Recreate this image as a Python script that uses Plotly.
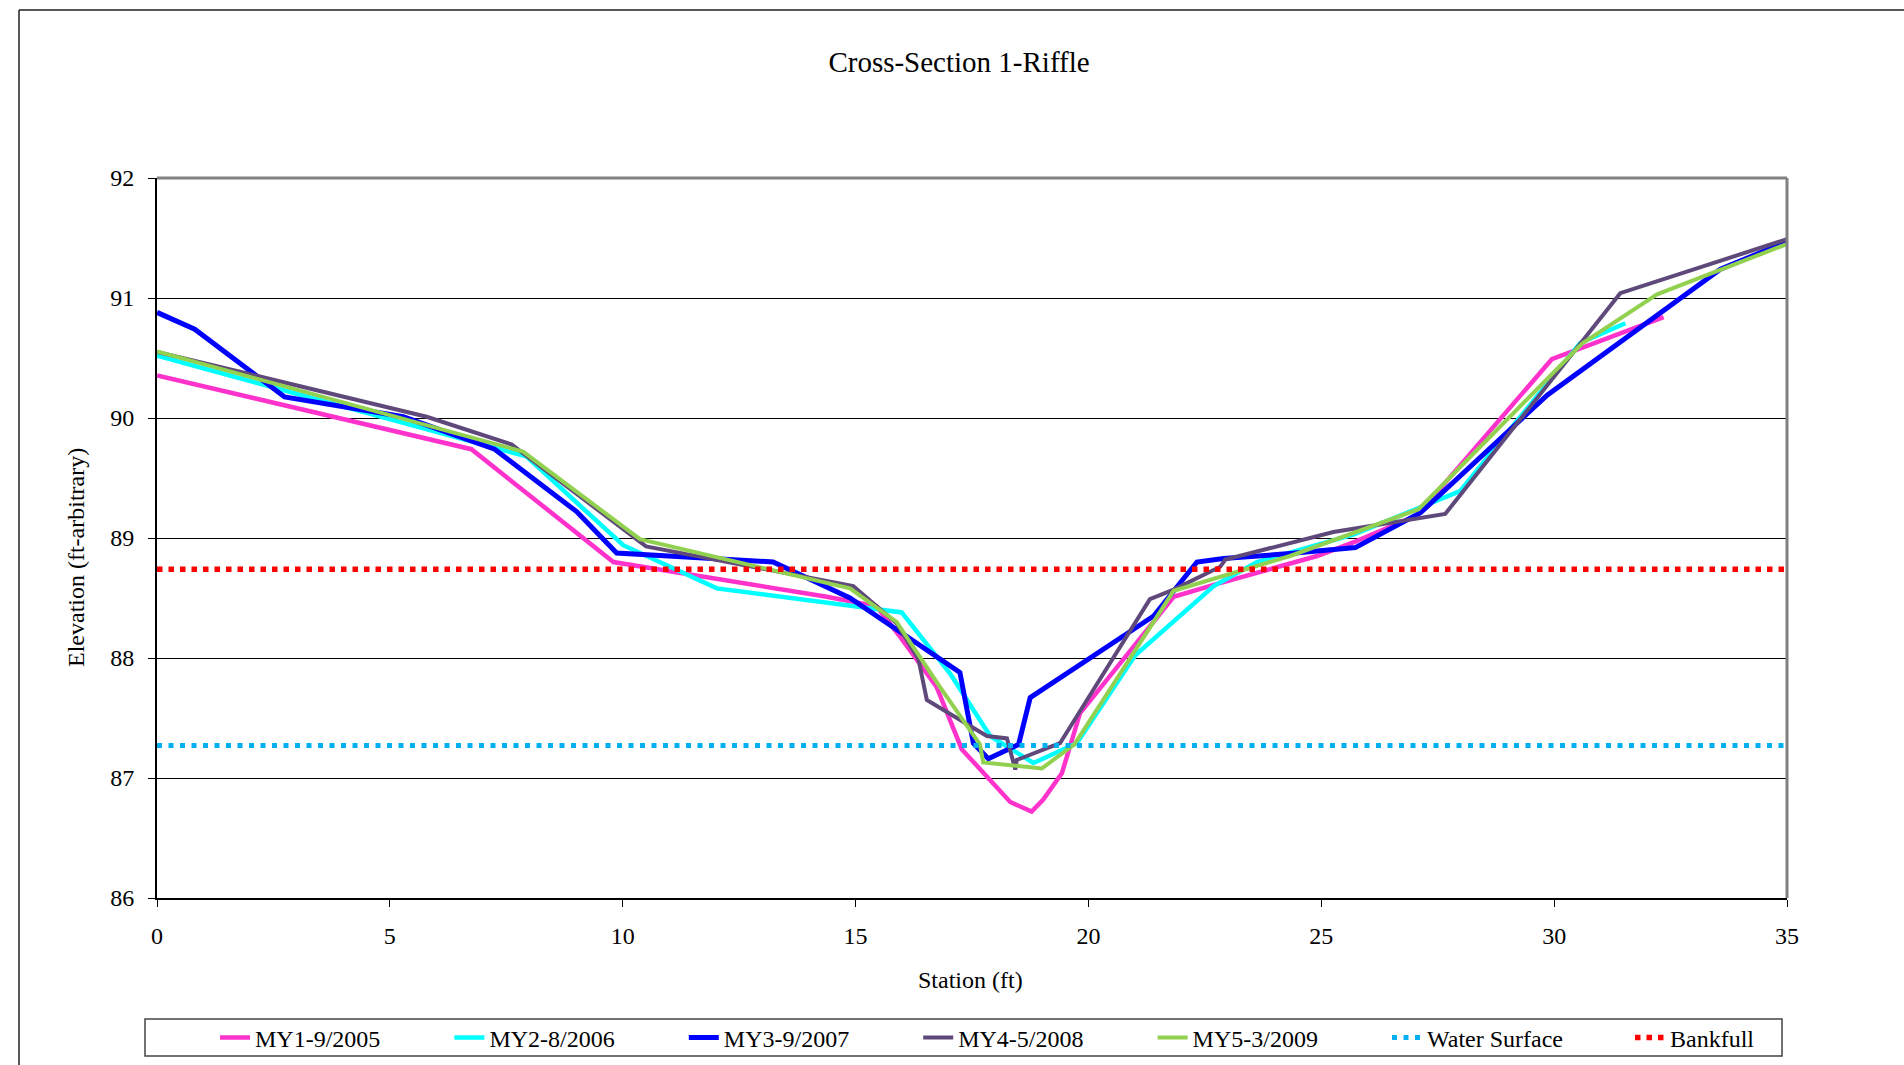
import plotly.graph_objects as go

# Station (ft) and elevation (ft) for each monitoring-year survey
my1_station = [0, 6.75, 9.8, 11.66, 14.38, 15.45, 15.95, 16.74, 17.28, 18.32, 18.78, 19.03,
               19.43, 19.82, 21.83, 22.69, 24.91, 25.73, 27.06, 29.95, 32.35]
my1_elev = [90.355, 89.74, 88.80, 88.68, 88.51, 88.43, 88.18, 87.76, 87.24, 86.80, 86.72, 86.82,
            87.04, 87.54, 88.51, 88.61, 88.85, 88.97, 89.19, 90.49, 90.84]

my2_station = [0, 2.8, 7.93, 10.01, 12.02, 15.02, 15.99, 17.03, 17.89, 18.82, 19.75, 21.0,
               22.69, 23.62, 25.7, 27.98, 30.56, 31.53]
my2_elev = [90.52, 90.22, 89.68, 88.94, 88.58, 88.43, 88.38, 87.87, 87.35, 87.125, 87.29, 88.02,
            88.60, 88.80, 89.03, 89.39, 90.625, 90.79]

my3_station = [0, 0.81, 2.74, 5.29, 7.25, 9.01, 9.87, 13.23, 14.88, 17.24, 17.53, 17.85, 18.50,
               18.75, 21.40, 22.33, 22.9, 24.33, 25.73, 27.13, 29.85, 33.57, 35]
my3_elev = [90.88, 90.74, 90.175, 90.01, 89.74, 89.22, 88.875, 88.80, 88.50, 87.88, 87.29, 87.16,
            87.28, 87.67, 88.35, 88.80, 88.83, 88.87, 88.92, 89.21, 90.19, 91.24, 91.47]

my4_station = [0, 0.77, 5.79, 7.61, 10.5, 14.95, 15.88, 16.35, 16.53, 17.82, 18.25, 18.43, 18.46,
               19.39, 21.32, 21.83, 22.83, 22.94, 25.26, 27.66, 31.42, 35]
my4_elev = [90.55, 90.48, 90.01, 89.78, 88.93, 88.60, 88.29, 87.99, 87.65, 87.35, 87.33, 87.07, 87.15,
            87.29, 88.49, 88.57, 88.76, 88.82, 89.05, 89.20, 91.04, 91.49]

my5_station = [0, 7.86, 10.37, 13.80, 14.88, 15.88, 16.81, 17.67, 17.74, 19.0, 19.7, 21.83,
               24.33, 27.09, 30.6, 32.21, 35]
my5_elev = [90.555, 89.72, 88.99, 88.68, 88.58, 88.30, 87.76, 87.28, 87.13, 87.08, 87.28, 88.56,
            88.85, 89.24, 90.62, 91.03, 91.45]

# Reference elevations spanning the section
level_station = [0, 35]
water_surface_elev = [87.27, 87.27]
bankfull_elev = [88.74, 88.74]

series_names = ["MY1-9/2005", "MY2-8/2006", "MY3-9/2007", "MY4-5/2008", "MY5-3/2009"]
x_ticks = [0, 5, 10, 15, 20, 25, 30, 35]
y_ticks = [86, 87, 88, 89, 90, 91, 92]

SERIF = "Liberation Serif, Times New Roman, serif"

surveys = [
    (my1_station, my1_elev, "#FF33CC", 4.5),
    (my2_station, my2_elev, "#00FFFF", 4.5),
    (my3_station, my3_elev, "#0000FF", 5),
    (my4_station, my4_elev, "#5F497A", 4),
    (my5_station, my5_elev, "#92D050", 4),
]

fig = go.Figure()
for name, (xs, ys, color, w) in zip(series_names, surveys):
    fig.add_trace(go.Scatter(x=xs, y=ys, mode="lines", name=name,
                             line=dict(color=color, width=w)))

fig.add_trace(go.Scatter(x=level_station, y=water_surface_elev, mode="lines", name="Water Surface",
                         line=dict(color="#00B0F0", width=5, dash="5px,6.5px")))
fig.add_trace(go.Scatter(x=level_station, y=bankfull_elev, mode="lines", name="Bankfull",
                         legend="legend2",
                         line=dict(color="#FF0000", width=5.5, dash="5.5px,6px")))

W, H = 1904, 1065
L, R, T, B = 157, 117, 178, 167
pw, ph = W - L - R, H - T - B


def px_x(p):
    return (p - L) / pw


def px_y(p):
    return (H - B - p) / ph


shapes = [
    # grey plot-area frame on top and right
    dict(type="line", xref="paper", yref="paper", x0=0, x1=1, y0=1, y1=1,
         line=dict(color="#808080", width=3)),
    dict(type="line", xref="paper", yref="paper", x0=1, x1=1, y0=0, y1=1,
         line=dict(color="#808080", width=3)),
    # chart-area border
    dict(type="line", xref="paper", yref="paper", x0=px_x(19), x1=px_x(1910),
         y0=px_y(10), y1=px_y(10), line=dict(color="#222222", width=1.5)),
    dict(type="line", xref="paper", yref="paper", x0=px_x(19), x1=px_x(19),
         y0=px_y(10), y1=px_y(1070), line=dict(color="#222222", width=1.5)),
    # legend box
    dict(type="rect", xref="paper", yref="paper", x0=px_x(145), x1=px_x(1782),
         y0=px_y(1056), y1=px_y(1019), line=dict(color="#444444", width=1.5)),
]

annotations = [
    dict(text="Station (ft)", xref="paper", yref="paper", x=px_x(970), y=px_y(980),
         showarrow=False, font=dict(family=SERIF, size=24, color="black"),
         xanchor="center", yanchor="middle"),
    dict(text="Elevation (ft-arbitrary)", xref="paper", yref="paper", x=px_x(76), y=px_y(558),
         showarrow=False, textangle=-90, font=dict(family=SERIF, size=24, color="black"),
         xanchor="center", yanchor="middle"),
]

legend_common = dict(orientation="h", xanchor="left", yref="container", y=1 - 1038 / H,
                     yanchor="middle", bgcolor="rgba(0,0,0,0)", borderwidth=0,
                     entrywidth=189.4, entrywidthmode="pixels",
                     font=dict(family=SERIF, size=24, color="black"))

fig.update_layout(
    width=W, height=H,
    margin=dict(l=L, r=R, t=T, b=B, autoexpand=False),
    paper_bgcolor="white", plot_bgcolor="white",
    title=dict(text="Cross-Section 1-Riffle", x=959 / W, xanchor="center",
               y=1 - 62 / H, yanchor="middle", yref="container",
               font=dict(family=SERIF, size=29, color="black")),
    font=dict(family=SERIF, size=24, color="black"),
    xaxis=dict(range=[0, 35], tickvals=x_ticks, ticks="outside", ticklen=7, tickwidth=1,
               tickcolor="black", showline=True, linecolor="black", linewidth=2,
               showgrid=False, zeroline=False, ticklabelstandoff=8,
               tickfont=dict(family=SERIF, size=24, color="black")),
    yaxis=dict(range=[86, 92], tickvals=y_ticks, ticks="outside", ticklen=7, tickwidth=1,
               tickcolor="black", showline=True, linecolor="black", linewidth=2,
               showgrid=True, gridcolor="black", gridwidth=1, zeroline=False,
               ticklabelstandoff=9,
               tickfont=dict(family=SERIF, size=24, color="black")),
    legend=dict(x=px_x(215), **legend_common),
    legend2=dict(x=px_x(1630), **legend_common),
    shapes=shapes,
    annotations=annotations,
    showlegend=True,
)

fig.write_html("out.html")
